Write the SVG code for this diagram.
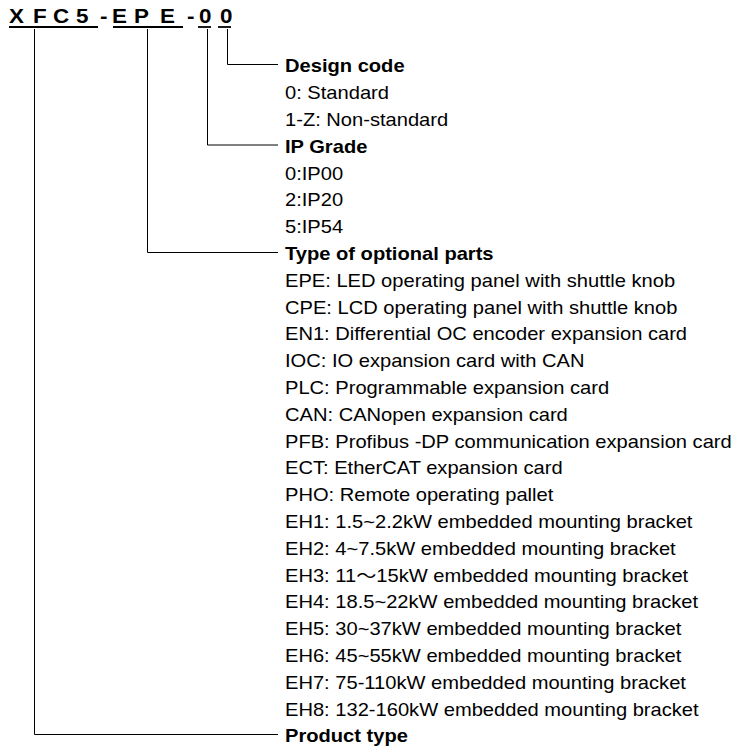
<svg xmlns="http://www.w3.org/2000/svg" width="741" height="746" viewBox="0 0 741 746">
<style>
text{font-family:"Liberation Sans",Arial,"Noto Sans CJK SC",sans-serif;font-size:17.5px;fill:#000}
.h{font-weight:bold}
.t{font-weight:bold;font-size:19.5px}
.c{stroke:#000;stroke-width:1;fill:none}
.u{stroke:#000;stroke-width:1.8}
</style>
<rect width="741" height="746" fill="#fff"/>
<g id="title">
<g transform="scale(1.15 1)">
<text class="t" y="23"><tspan x="7.8">X</tspan><tspan x="28.7">F</tspan><tspan x="46.1">C</tspan><tspan x="66.1">5</tspan><tspan x="87">-</tspan><tspan x="97.4">E</tspan><tspan x="116.5">P</tspan><tspan x="139.1">E</tspan><tspan x="162.6">-</tspan><tspan x="173">0</tspan><tspan x="191.3">0</tspan></text>
</g>
<line class="u" x1="9" y1="27" x2="98" y2="27"/>
<line class="u" x1="113" y1="27" x2="183" y2="27"/>
<line class="u" x1="198" y1="27" x2="211" y2="27"/>
<line class="u" x1="218" y1="27" x2="231" y2="27"/>
</g>
<g id="connectors">
<polyline class="c" points="227.5,29 227.5,64.5 278,64.5"/>
<polyline class="c" points="207.5,29 207.5,145 278,145"/>
<polyline class="c" points="147.5,29 147.5,252.5 278,252.5"/>
<polyline class="c" points="34.5,29 34.5,734.5 278,734.5"/>
</g>
<g transform="scale(1.15 1)">
<g id="design-code">
<text class="h" x="247.83" y="72.5">Design code</text>
<text x="247.83" y="99.3">0: Standard</text>
<text x="247.83" y="126.1">1-Z: Non-standard</text>
</g>
<g id="ip-grade">
<text class="h" x="247.83" y="152.9">IP Grade</text>
<text x="247.83" y="179.7">0:IP00</text>
<text x="247.83" y="206.5">2:IP20</text>
<text x="247.83" y="233.3">5:IP54</text>
</g>
<g id="optional-parts">
<text class="h" x="247.83" y="260.1">Type of optional parts</text>
<text x="247.83" y="286.9">EPE: LED operating panel with shuttle knob</text>
<text x="247.83" y="313.7">CPE: LCD operating panel with shuttle knob</text>
<text x="247.83" y="340.5">EN1: Differential OC encoder expansion card</text>
<text x="247.83" y="367.3">IOC: IO expansion card with CAN</text>
<text x="247.83" y="394.1">PLC: Programmable expansion card</text>
<text x="247.83" y="420.9">CAN: CANopen expansion card</text>
<text x="247.83" y="447.7">PFB: Profibus -DP communication expansion card</text>
<text x="247.83" y="474.5">ECT: EtherCAT expansion card</text>
<text x="247.83" y="501.3">PHO: Remote operating pallet</text>
<text x="247.83" y="528.1">EH1: 1.5~2.2kW embedded mounting bracket</text>
<text x="247.83" y="554.9">EH2: 4~7.5kW embedded mounting bracket</text>
<text x="247.83" y="581.7">EH3: 11～15kW embedded mounting bracket</text>
<text x="247.83" y="608.5">EH4: 18.5~22kW embedded mounting bracket</text>
<text x="247.83" y="635.3">EH5: 30~37kW embedded mounting bracket</text>
<text x="247.83" y="662.1">EH6: 45~55kW embedded mounting bracket</text>
<text x="247.83" y="688.9">EH7: 75-110kW embedded mounting bracket</text>
<text x="247.83" y="715.7">EH8: 132-160kW embedded mounting bracket</text>
</g>
<g id="product-type">
<text class="h" x="247.83" y="742.5">Product type</text>
</g>
</g>
</svg>
